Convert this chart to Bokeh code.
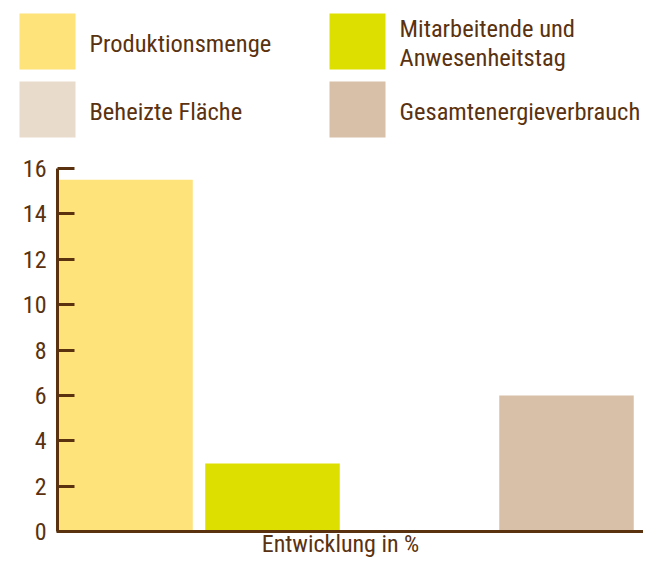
from bokeh.plotting import figure
from bokeh.models import Range1d, FixedTicker, ColumnDataSource
from bokeh.core.properties import value
from bokeh.embed import file_html
from bokeh.resources import INLINE

# ---- data ----
categories = ["Produktionsmenge", "Mitarbeitende und\nAnwesenheitstag",
              "Beheizte Fläche", "Gesamtenergieverbrauch"]
values = [15.5, 3.0, 0.0, 6.0]
y_ticks = [0, 2, 4, 6, 8, 10, 12, 14, 16]
x_title = "Entwicklung in %"

palette = ["#FEE27A", "#DDDF00", "#E8DBCB", "#D8BFA8"]
BROWN = "#5A3210"
FONT = "Roboto Condensed, Liberation Sans Narrow, sans-serif"

# ---- canvas geometry (pixels) ----
W, H = 643, 557
X_UNIT, X_FIRST = 147.0, 125.0      # px per category, px centre of first bar
Y_UNIT, Y_ZERO = 22.6875, 531.0     # px per unit, px of value 0


def xd(px):
    return (px - X_FIRST) / X_UNIT


def yd(py):
    return (Y_ZERO - py) / Y_UNIT


p = figure(width=W, height=H, output_backend="svg", toolbar_location=None,
           x_range=Range1d(xd(0), xd(W)), y_range=Range1d(yd(H), yd(0)),
           min_border=0, outline_line_color=None)
p.grid.visible = False

# bars
src = ColumnDataSource(dict(x=list(range(len(categories))), top=values,
                            color=palette, name=categories))
p.vbar(x="x", top="top", width=134.5 / X_UNIT, bottom=0, fill_color="color",
       line_color=None, source=src)

# axes
ya = p.yaxis[0]
ya.fixed_location = xd(57)
ya.bounds = (0, 16)
ya.ticker = FixedTicker(ticks=y_ticks)
ya.axis_line_color = BROWN
ya.axis_line_width = 3
ya.major_tick_line_color = BROWN
ya.major_tick_line_width = 3
ya.major_tick_in = 17
ya.major_tick_out = 0
ya.minor_tick_line_color = None
ya.major_label_text_font = FONT
ya.major_label_text_font_size = "24px"
ya.major_label_text_color = BROWN
ya.major_label_standoff = 11

xa = p.xaxis[0]
xa.fixed_location = 0
xa.bounds = (xd(56), xd(W))
xa.axis_line_color = BROWN
xa.axis_line_width = 3
xa.major_tick_line_color = None
xa.minor_tick_line_color = None
xa.major_label_text_font_size = "0px"
xa.major_label_text_color = None

# axis title
p.text(x=[xd(340)], y=[yd(543)], text=[x_title], text_font=value(FONT),
       text_font_size="24px", text_color=BROWN, text_align="center",
       text_baseline="middle")

# legend (2 columns, row-major)
col_x = [19, 329]
row_y = [13, 81]
sq = 56
lx0, lx1, ly0, ly1, tx, ty = [], [], [], [], [], []
for i, _ in enumerate(categories):
    c, r = i % 2, i // 2
    lx0.append(xd(col_x[c])); lx1.append(xd(col_x[c] + sq))
    ly0.append(yd(row_y[r])); ly1.append(yd(row_y[r] + sq))
    tx.append(xd(col_x[c] + 70)); ty.append(yd(row_y[r] + sq / 2 + 1.5))
p.quad(left=lx0, right=lx1, top=ly0, bottom=ly1, fill_color=palette, line_color=None)
p.text(x=tx, y=ty, text=categories, text_font=value(FONT), text_font_size="24.5px",
       text_color=BROWN, text_baseline="middle", text_align="left",
       text_line_height=0.98)

open("out.html", "w").write(file_html(p, INLINE))
